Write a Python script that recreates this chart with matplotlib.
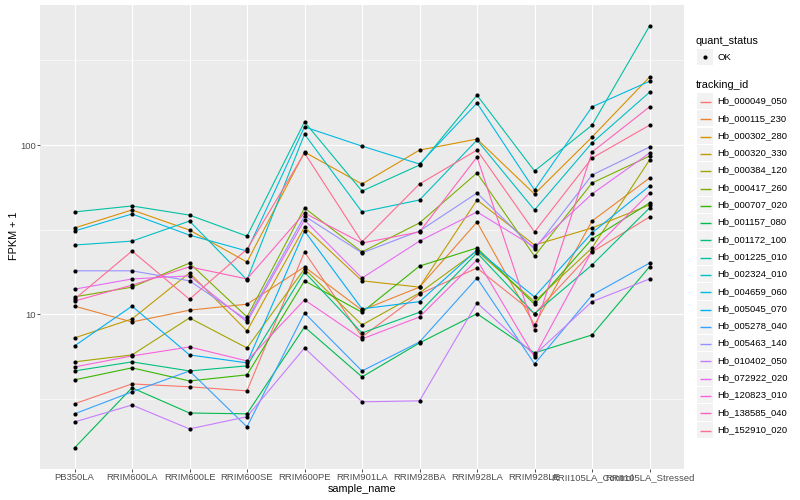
import numpy as np
import matplotlib
matplotlib.use("Agg")
import matplotlib.pyplot as plt
from matplotlib.ticker import FixedLocator, FixedFormatter, NullFormatter
from matplotlib.patches import Rectangle


samples = ["PB350LA", "RRIM600LA", "RRIM600LE", "RRIM600SE", "RRIM600PE",
           "RRIM901LA", "RRIM928BA", "RRIM928LA", "RRIM928LE",
           "RRII105LA_Control", "RRII105LA_Stressed"]

# FPKM + 1, one list per tracking_id, in sample order
hb_000049_050 = [2.97, 3.89, 3.74, 3.54, 23.4, 7.37, 13.2, 18.8, 10.1, 23.4, 37.6]
hb_000115_230 = [11.2, 9.03, 10.6, 11.5, 19.1, 10.6, 14.5, 35.1, 8.67, 35.6, 63.9]
hb_000302_280 = [32.4, 41.4, 31.5, 20.4, 90.9, 58.9, 93.4, 108.5, 51.4, 111.5, 252]
hb_000320_330 = [7.27, 9.41, 17.6, 7.99, 32.8, 15.8, 14.5, 47.4, 25.7, 32.4, 44.3]
hb_000384_120 = [5.25, 5.77, 9.54, 6.34, 18.6, 8.67, 13.4, 23.7, 11.9, 24.7, 81.6]
hb_000417_260 = [12.7, 14.5, 20.1, 9.67, 42.5, 23.4, 34.7, 68.4, 22.1, 59.7, 86.1]
hb_000707_020 = [4.11, 4.84, 4.05, 4.40, 15.8, 10.3, 19.3, 24.7, 11.5, 27.9, 45.5]
hb_001157_080 = [1.63, 3.69, 2.62, 2.59, 8.44, 4.28, 6.79, 10.1, 5.93, 7.57, 19.1]
hb_001172_100 = [4.64, 5.25, 4.64, 4.97, 17.8, 7.78, 10.3, 23.1, 10.1, 19.6, 42.5]
hb_001225_010 = [40.3, 43.7, 38.6, 29.0, 137, 53.5, 76.2, 197, 70.3, 131, 504]
hb_002324_010 = [25.7, 27.1, 35.6, 16.0, 116, 40.3, 47.4, 107, 41.4, 103, 205]
hb_004659_060 = [31.1, 39.2, 29.4, 23.7, 128, 98.6, 77.3, 177, 54.3, 168, 238]
hb_005045_070 = [6.52, 11.2, 5.77, 5.18, 31.1, 10.8, 11.9, 24.0, 12.7, 30.3, 57.3]
hb_005278_040 = [2.59, 3.49, 4.64, 2.17, 10.2, 4.64, 6.88, 16.4, 5.11, 13.0, 20.1]
hb_005463_140 = [18.1, 18.1, 15.8, 9.28, 38.1, 23.1, 31.1, 52.1, 24.3, 66.5, 97.3]
hb_010402_050 = [2.32, 2.92, 2.11, 2.49, 6.34, 3.05, 3.09, 11.7, 5.77, 11.9, 16.2]
hb_072922_020 = [14.1, 16.2, 16.9, 9.03, 36.1, 16.4, 27.1, 40.3, 25.0, 51.4, 89.7]
hb_120823_010 = [4.90, 5.69, 6.43, 5.32, 12.2, 7.17, 9.67, 21.0, 5.62, 23.7, 52.1]
hb_138585_040 = [12.0, 14.9, 19.1, 16.2, 39.7, 26.4, 30.7, 85.0, 8.10, 90.9, 168]
hb_152910_020 = [12.3, 23.7, 12.3, 24.3, 89.7, 26.8, 58.9, 93.4, 30.7, 83.8, 131]

tracking_ids = ["Hb_000049_050", "Hb_000115_230", "Hb_000302_280", "Hb_000320_330",
                "Hb_000384_120", "Hb_000417_260", "Hb_000707_020", "Hb_001157_080",
                "Hb_001172_100", "Hb_001225_010", "Hb_002324_010", "Hb_004659_060",
                "Hb_005045_070", "Hb_005278_040", "Hb_005463_140", "Hb_010402_050",
                "Hb_072922_020", "Hb_120823_010", "Hb_138585_040", "Hb_152910_020"]
series = [hb_000049_050, hb_000115_230, hb_000302_280, hb_000320_330, hb_000384_120,
          hb_000417_260, hb_000707_020, hb_001157_080, hb_001172_100, hb_001225_010,
          hb_002324_010, hb_004659_060, hb_005045_070, hb_005278_040, hb_005463_140,
          hb_010402_050, hb_072922_020, hb_120823_010, hb_138585_040, hb_152910_020]

# ggplot hue palette, 20 levels
colors = ["#F8766D", "#EA8331", "#D89000", "#C09B00", "#A3A500", "#7CAE00", "#39B600",
          "#00BB4E", "#00BF7D", "#00C1A3", "#00BFC4", "#00BAE0", "#00B0F6", "#35A2FF",
          "#9590FF", "#C77CFF", "#E76BF3", "#FA62DB", "#FF62BC", "#FF6C91"]

plt.rcParams['font.family'] = ['Liberation Sans', 'DejaVu Sans']

fig = plt.figure(figsize=(8, 5), dpi=100)
ax = fig.add_axes([0.05, 0.062, 0.805, 0.928])
ax.set_facecolor('#EBEBEB')
for s in ax.spines.values():
    s.set_visible(False)

x = np.arange(len(samples))
for vals, col in zip(series, colors):
    ax.plot(x, vals, color=col, lw=0.8, zorder=2)
for vals in series:
    ax.plot(x, vals, 'o', color='black', ms=3.0, mew=0, zorder=3)

ax.set_yscale('log')
allv = np.log10(np.concatenate([np.asarray(v, float) for v in series]))
lo, hi = allv.min(), allv.max()
pad = 0.05 * (hi - lo)
ax.set_ylim(10 ** (lo - pad), 10 ** (hi + pad))
ax.set_xlim(-0.6, len(samples) - 1 + 0.6)

ax.yaxis.set_major_locator(FixedLocator([10, 100]))
ax.yaxis.set_major_formatter(FixedFormatter(["10", "100"]))
ax.yaxis.set_minor_locator(FixedLocator([10 ** 0.5, 10 ** 1.5, 10 ** 2.5]))
ax.yaxis.set_minor_formatter(NullFormatter())
ax.set_xticks(x)
ax.set_xticklabels(samples)

ax.grid(which='major', color='white', lw=0.8)
ax.grid(which='minor', axis='y', color='white', lw=0.4)
ax.set_axisbelow(True)
ax.tick_params(which='major', length=2.2, width=0.6, color='#333333',
               labelcolor='#4D4D4D', labelsize=6.8, pad=1)
ax.tick_params(which='minor', length=0)

fig.text(14 / 800, 1 - 236 / 500, 'FPKM + 1', rotation=90, ha='center', va='center',
         fontsize=7.8)
fig.text(362 / 800, 1 - 489 / 500, 'sample_name', ha='center', va='center', fontsize=7.8)

# legends drawn in pixel space
lax = fig.add_axes([0, 0, 1, 1])
lax.set_xlim(0, 800)
lax.set_ylim(500, 0)
lax.axis('off')

lax.text(696, 41, 'quant_status', fontsize=7.8, va='center', ha='left')
lax.add_patch(Rectangle((697, 49), 16, 16.3, facecolor='#F2F2F2', edgecolor='none'))
lax.plot([705], [57], 'o', color='black', ms=3.0, mew=0)
lax.text(717, 57, 'OK', fontsize=6.8, va='center', ha='left')

lax.text(696, 85, 'tracking_id', fontsize=7.8, va='center', ha='left')
step = 17.3
for i, (name, col) in enumerate(zip(tracking_ids, colors)):
    yc = 101 + i * step
    lax.add_patch(Rectangle((697, yc - 8.1), 16, 16.3, facecolor='#F2F2F2',
                            edgecolor='none'))
    ly = round(yc) + 0.5
    lax.plot([699.5, 710.5], [ly, ly], color=col, lw=1.0, solid_capstyle='butt')
    lax.text(717, yc, name, fontsize=6.8, va='center', ha='left')

fig.savefig('out.png', dpi=100)
